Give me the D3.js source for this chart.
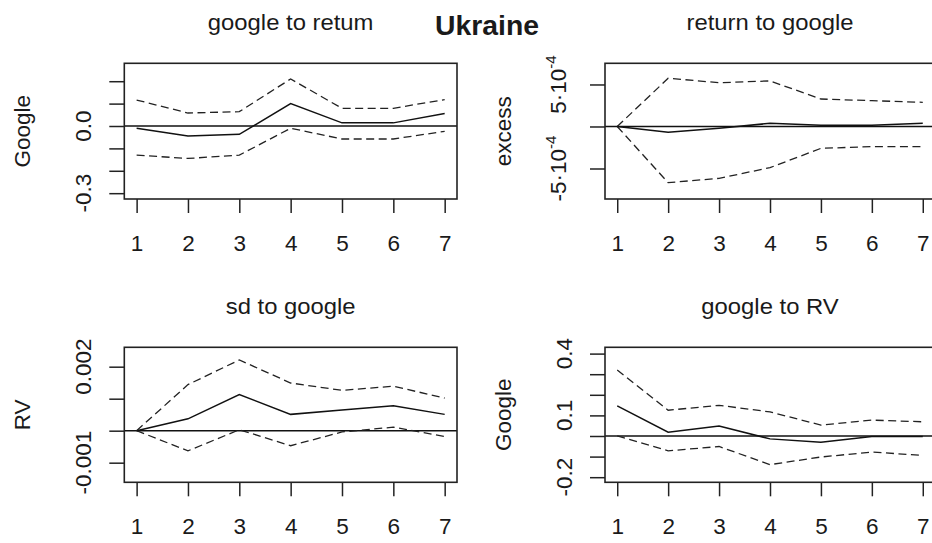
<!DOCTYPE html>
<html>
<head>
<meta charset="utf-8">
<script src="https://cdn.jsdelivr.net/npm/d3@7"></script>
<style>
  body { margin: 0; background: #fff; }
  svg { display: block; }
  text { font-family: "Liberation Sans", Arial, sans-serif; fill: #1a1a1a; }
</style>
</head>
<body>
<svg id="chart" width="932" height="543"></svg>
<script>
// horizons on the x axis
const horizons = [1, 2, 3, 4, 5, 6, 7];

// google to retum
const irf1   = [-0.010, -0.045, -0.037, 0.100, 0.014, 0.014, 0.056];
const upper1 = [0.116, 0.058, 0.064, 0.210, 0.079, 0.079, 0.118];
const lower1 = [-0.130, -0.145, -0.130, -0.010, -0.058, -0.058, -0.024];

// return to google
const irf2   = [0, -0.69e-4, -0.21e-4, 0.38e-4, 0.14e-4, 0.14e-4, 0.38e-4];
const upper2 = [0, 5.74e-4, 5.21e-4, 5.42e-4, 3.27e-4, 3.07e-4, 2.88e-4];
const lower2 = [0, -6.69e-4, -6.17e-4, -4.90e-4, -2.60e-4, -2.40e-4, -2.40e-4];

// sd to google
const irf3   = [0, 0.00037, 0.00113, 0.00051, 0.00065, 0.00078, 0.00051];
const upper3 = [0, 0.00144, 0.00221, 0.00149, 0.00126, 0.00139, 0.00102];
const lower3 = [0, -0.00063, 0.00003, -0.00047, -0.00004, 0.00011, -0.00018];

// google to RV
const irf4   = [0.146, 0.018, 0.048, -0.014, -0.030, -0.003, -0.003];
const upper4 = [0.320, 0.125, 0.149, 0.117, 0.053, 0.077, 0.069];
const lower4 = [0, -0.072, -0.051, -0.139, -0.102, -0.078, -0.094];

const panelTitles = ["google to retum", "return to google", "sd to google", "google to RV"];
const yTitles = ["Google", "excess", "RV", "Google"];
const yTicks = [
  [-0.3, -0.2, -0.1, 0, 0.1, 0.2],
  [-5e-4, 0, 5e-4],
  [-0.001, 0, 0.001, 0.002],
  [-0.2, -0.1, 0, 0.1, 0.2, 0.3, 0.4]
];
const yLabels = [
  [[0, "0.0"], [-0.3, "-0.3"]],
  [[5e-4, "5\u00b710", "-4"], [-5e-4, "-5\u00b710", "-4"]],
  [[0.002, "0.002"], [-0.001, "-0.001"]],
  [[0.4, "0.4"], [0.1, "0.1"], [-0.2, "-0.2"]]
];
// y range covered by each plot box
const yDomains = [[-0.326, 0.28], [-8.63e-4, 7.52e-4], [-0.001613, 0.002606], [-0.2248, 0.4306]];

const svg = d3.select("#chart");

// plot boxes (left, right, top, bottom)
const cols = [[124.3, 457], [605, 935]];
const rows = [[63.3, 199], [347.3, 482.3]];

const panels = [
  {irf: irf1, upper: upper1, lower: lower1},
  {irf: irf2, upper: upper2, lower: lower2},
  {irf: irf3, upper: upper3, lower: lower3},
  {irf: irf4, upper: upper4, lower: lower4}
];

panels.forEach((p, i) => {
  const [x0, x1] = cols[i % 2];
  const [y0, y1] = rows[Math.floor(i / 2)];
  const labOff = i == 1 ? 39 : 33;

  const x = d3.scaleLinear().domain([1 - 0.24, 7 + 0.24]).range([x0, x1]);
  const y = d3.scaleLinear().domain(yDomains[i]).range([y1, y0]);

  const g = svg.append("g");

  // panel title
  g.append("text")
    .attr("transform", `translate(${(x0 + x1) / 2},${y0 - 33.5}) scale(1.06,1)`)
    .attr("text-anchor", "middle")
    .style("font-size", "22.5px")
    .text(panelTitles[i]);

  // y axis title
  g.append("text")
    .attr("transform", `translate(${x0 - 94.5},${(y0 + y1) / 2}) rotate(-90)`)
    .attr("text-anchor", "middle")
    .style("font-size", "22.5px")
    .text(yTitles[i]);

  // x axis
  const xa = g.append("g")
    .attr("transform", `translate(0,${y1})`)
    .call(d3.axisBottom(x).tickValues(horizons).tickSize(14).tickPadding(22).tickFormat(d3.format("d")));
  xa.select(".domain").remove();
  xa.selectAll("line").attr("stroke", "#222").attr("stroke-width", 1.5);
  xa.selectAll("text").style("font-size", "22.5px").attr("fill", "#1a1a1a")
    .style("font-family", "Liberation Sans, Arial, sans-serif");

  // y axis ticks
  const ya = g.append("g")
    .attr("transform", `translate(${x0},0)`)
    .call(d3.axisLeft(y).tickValues(yTicks[i]).tickSize(15).tickFormat(""));
  ya.select(".domain").remove();
  ya.selectAll("line").attr("stroke", "#222").attr("stroke-width", 1.5);

  // y tick labels (rotated, like R)
  yLabels[i].forEach(l => {
    const t = g.append("text")
      .attr("transform", `translate(${x0 - labOff},${y(l[0])}) rotate(-90)`)
      .attr("text-anchor", "middle")
      .style("font-size", "22.5px")
      .text(l[1]);
    if (l[2]) {
      t.append("tspan").attr("dy", -10).style("font-size", "15px").text(l[2]);
    }
  });

  // zero line
  g.append("line")
    .attr("x1", x0).attr("x2", x1)
    .attr("y1", y(0)).attr("y2", y(0))
    .attr("stroke", "#111").attr("stroke-width", 1.6);

  const line = d3.line().x((d, k) => x(horizons[k])).y(d => y(d));

  g.append("path").attr("d", line(p.upper))
    .attr("fill", "none").attr("stroke", "#222").attr("stroke-width", 1.3)
    .attr("stroke-dasharray", "8,4.5");
  g.append("path").attr("d", line(p.lower))
    .attr("fill", "none").attr("stroke", "#222").attr("stroke-width", 1.3)
    .attr("stroke-dasharray", "8,4.5");
  g.append("path").attr("d", line(p.irf))
    .attr("fill", "none").attr("stroke", "#111").attr("stroke-width", 1.5);

  // box
  g.append("rect")
    .attr("x", x0).attr("y", y0)
    .attr("width", x1 - x0).attr("height", y1 - y0)
    .attr("fill", "none").attr("stroke", "#222").attr("stroke-width", 1.6);
});

// main title
svg.append("text")
  .attr("transform", "translate(487,34.5) scale(1.05,1)")
  .attr("text-anchor", "middle")
  .style("font-size", "27px")
  .style("font-weight", "bold")
  .text("Ukraine");
</script>
</body>
</html>
